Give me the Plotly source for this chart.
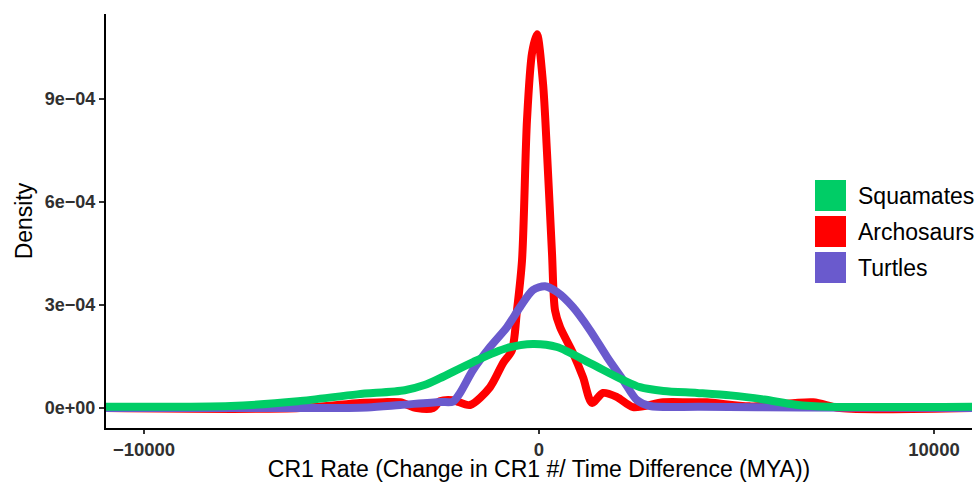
import plotly.graph_objects as go

# ---------------- data ----------------
series_names = ["Archosaurs", "Turtles", "Squamates"]
legend_order = ["Squamates", "Archosaurs", "Turtles"]
series_colors = {"Squamates": "#00CD66", "Archosaurs": "#FF0000", "Turtles": "#6A5ACD"}

arch_x = [-10962, -6050, -4530, -3950, -3520, -3090, -2680, -2506, -2177, -1747,
          -1240, -911, -684, -557, -430, -304, -177, -51, 101, 203, 329,
          405, 532, 861, 1114, 1342, 1620, 1975, 2380, 3139, 3823, 4253, 5342,
          6937, 7620, 10962]
arch_y = [0, 0, 1.5e-5, 1.7e-5, 1.7e-5, 0, 0, 2.0e-5, 2.3e-5, 0.9e-5,
          6.1e-5, 1.31e-4, 1.69e-4, 2.85e-4, 4.3e-4, 8.39e-4, 1.034e-3, 1.089e-3, 9.47e-4, 7.43e-4, 4.51e-4,
          2.85e-4, 2.36e-4, 1.6e-4, 9.0e-5, 1.5e-5, 4.4e-5, 3.2e-5, 0.3e-5, 1.7e-5, 1.7e-5, 1.7e-5, 0.5e-5,
          1.7e-5, 0, 0]

turt_x = [-10962, -6000, -4350, -3520, -2506, -2177, -2000, -1671, -1240, -810,
          -481, -152, 152, 456, 861, 1291, 1722, 2127, 2481, 2810, 4076, 6608, 10962]
turt_y = [0, 0, 0.2e-5, 0.9e-5, 1.8e-5, 1.9e-5, 4.4e-5, 1.11e-4, 1.78e-4, 2.36e-4,
          2.94e-4, 3.44e-4, 3.55e-4, 3.38e-4, 2.94e-4, 2.27e-4, 1.49e-4, 8.2e-5, 2.3e-5, 0.6e-5, 0.4e-5, 0.2e-5, 0]

squa_x = [-10962, -7800, -6100, -4600, -3400, -2900, -2506, -1671, -810, -152,
          456, 1291, 2127, 2557, 3150, 4000, 4850, 5700, 6500, 7350, 10962]
squa_y = [0.4e-5, 0.6e-5, 2.0e-5, 4.0e-5, 5.2e-5, 6.7e-5, 8.7e-5, 1.34e-4, 1.75e-4, 1.87e-4,
          1.78e-4, 1.31e-4, 8.2e-5, 6.1e-5, 5.0e-5, 4.4e-5, 3.7e-5, 2.5e-5, 1.0e-5, 0.4e-5, 0.4e-5]

x_tickvals = [-10000, 0, 10000]
x_ticktext = ["\u221210000", "0", "10000"]
y_tickvals = [0, 3e-4, 6e-4, 9e-4]
y_ticktext = ["0e+00", "3e\u221204", "6e\u221204", "9e\u221204"]

x_title = "CR1 Rate (Change in CR1 #/ Time Difference (MYA))"
y_title = "Density"

data = {
    "Archosaurs": (arch_x, arch_y),
    "Turtles": (turt_x, turt_y),
    "Squamates": (squa_x, squa_y),
}

# ---------------- layout constants ----------------
W, H = 978, 482
L, R, T, B = 106, 6, 14, 54
PW, PH = W - L - R, H - T - B
FONT = "Liberation Sans, Arial, Helvetica, sans-serif"


def fx(px):
    return (px - L) / PW


def fy(py):
    return (H - B - py) / PH


fig = go.Figure()
for name in series_names:
    xs, ys = data[name]
    fig.add_trace(go.Scatter(
        x=xs, y=ys, mode="lines", name=name, showlegend=False, hoverinfo="skip",
        line=dict(color=series_colors[name], width=8, shape="spline", smoothing=0.8),
    ))

# manual legend (ggplot-style filled keys)
shapes = []
annotations = []
key_top = 180
for i, name in enumerate(legend_order):
    top = key_top + i * 36
    shapes.append(dict(type="rect", xref="paper", yref="paper",
                       x0=fx(815), x1=fx(846), y0=fy(top + 31), y1=fy(top),
                       fillcolor=series_colors[name], line=dict(width=0)))
    annotations.append(dict(xref="paper", yref="paper", x=fx(856), y=fy(top + 16),
                            xanchor="left", yanchor="middle", showarrow=False,
                            text=name, font=dict(family=FONT, size=23, color="black")))

fig.update_layout(
    width=W, height=H,
    margin=dict(l=L, r=R, t=T, b=B),
    paper_bgcolor="white", plot_bgcolor="white",
    showlegend=False,
    shapes=shapes, annotations=annotations,
    font=dict(family=FONT),
)
fig.update_xaxes(
    range=[-10962, 10962], showgrid=False, zeroline=False,
    showline=True, linecolor="black", linewidth=2,
    ticks="outside", ticklen=4, tickwidth=1.5, tickcolor="#333333",
    tickvals=x_tickvals, ticktext=x_ticktext,
    tickfont=dict(family=FONT, size=18.5, color="#303030", weight="bold"),
    title=dict(text=x_title, font=dict(family=FONT, size=23, color="black"), standoff=3),
    automargin=False,
)
fig.update_yaxes(
    range=[-5.8e-5, 1.148e-3], showgrid=False, zeroline=False,
    showline=True, linecolor="black", linewidth=2,
    ticks="outside", ticklen=5, tickwidth=1.5, tickcolor="#333333",
    tickvals=y_tickvals, ticktext=y_ticktext,
    tickfont=dict(family=FONT, size=18, color="#303030", weight="bold"),
    title=dict(text=y_title, font=dict(family=FONT, size=23, color="black"), standoff=6),
    automargin=False,
)

fig.write_html("out.html",
               config={"displayModeBar": False},
               post_script="document.body.style.margin='0';document.body.style.overflow='hidden';")
